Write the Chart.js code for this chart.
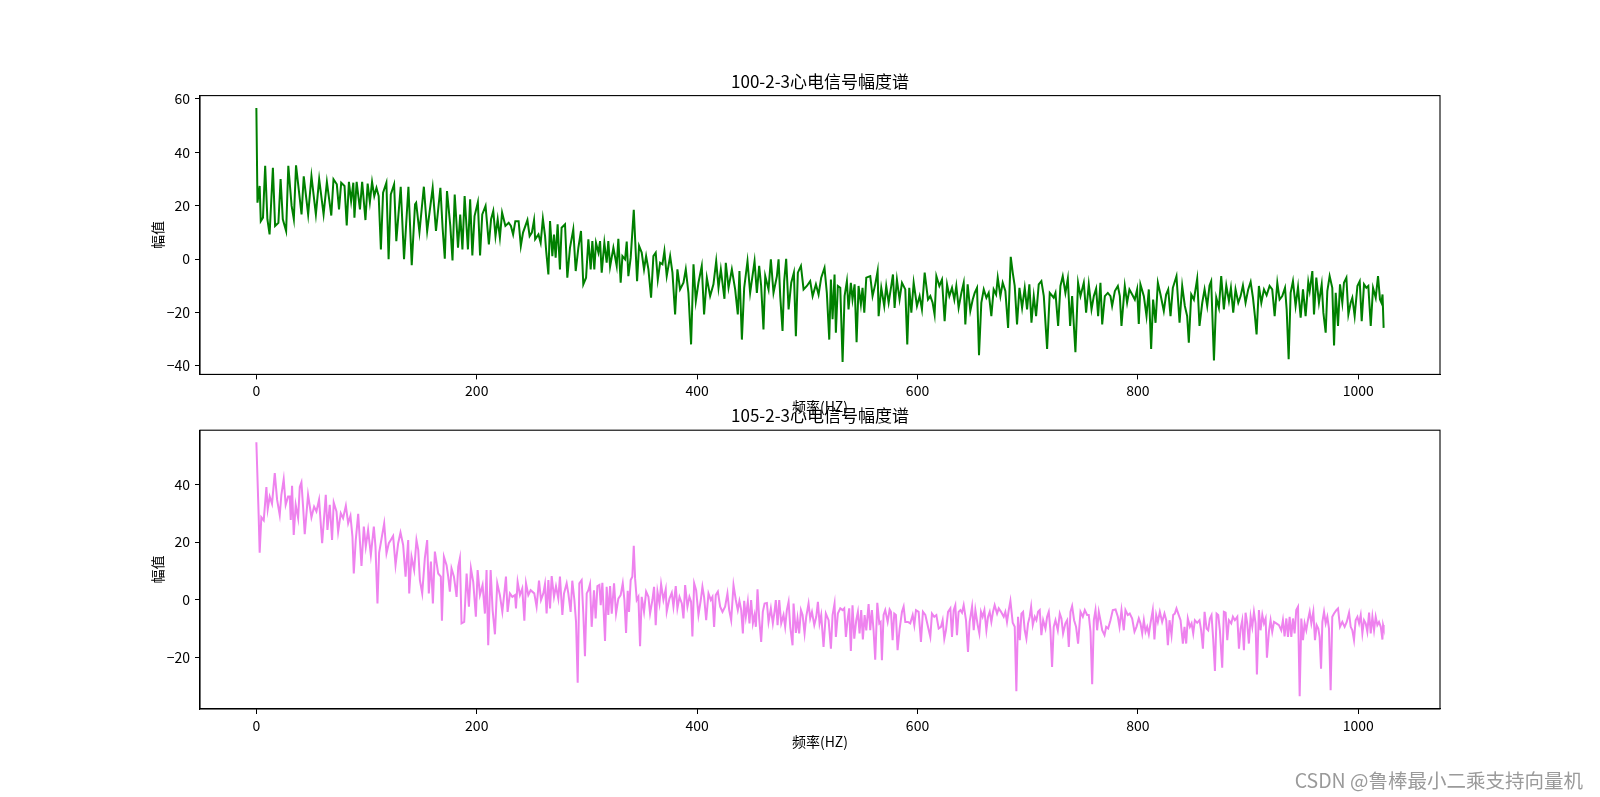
<!DOCTYPE html>
<html>
<head>
<meta charset="utf-8">
<title>心电信号幅度谱</title>
<script src="https://cdn.jsdelivr.net/npm/chart.js@4.4.1/dist/chart.umd.min.js"></script>
<style>
  html, body { margin: 0; padding: 0; background: #fff; }
  body { width: 1600px; height: 797px; position: relative; overflow: hidden; }
  canvas { position: absolute; left: 0; }
  #topChart { top: 0; }
  #botChart { top: 400px; }
  .watermark {
    position: absolute; right: 17px; top: 770px;
    font-family: "Noto Sans CJK SC", sans-serif; font-size: 19.5px; line-height: 19px;
    color: #9a9a9a; white-space: nowrap;
  }
</style>
</head>
<body>
<canvas id="topChart" width="1600" height="420"></canvas>
<canvas id="botChart" width="1600" height="397"></canvas>
<div class="watermark">CSDN @鲁棒最小二乘支持向量机</div>

<script>
// Chart Data
const xTicks = [0, 200, 400, 600, 800, 1000];
const topYTicks = [-40, -20, 0, 20, 40, 60];
const botYTicks = [-20, 0, 20, 40];

// 100-2-3 spectrum
const topFreq = [
  0,1,3,4,6,8,10,12,15,17,
  20,22,24,27,29,32,34,36,41,43,
  47,50,54,57,61,64,68,70,73,75,
  77,80,82,84,86,88,89,91,94,96,
  99,101,103,105,107,109,111,113,115,118,
  120,122,125,127,131,134,138,141,144,145,
  148,152,155,160,163,167,169,171,173,176,
  178,180,183,185,187,189,192,194,196,198,
  201,203,205,208,211,213,215,217,219,221,
  223,226,229,231,233,235,238,240,242,246,
  248,250,252,253,256,258,260,262,263,265,
  266.5,268.6,270.1,271.6,273.4,275.5,277,280.1,282.2,284.6,
  287.6,289.8,292.2,294.6,296.7,299.2,301.3,303.4,304.9,306.7,
  308.2,310.4,311.9,313.4,315.8,317.9,319.4,321,324,327,
  328.5,330.6,332.2,334.6,336.1,337.6,339.7,342.5,345.5,347.3,
  349.7,351.8,353.7,355.8,358.2,360.3,362.4,364.3,366.4,368.5,
  370.3,372.4,375.5,377.6,380,382.1,384.5,387.6,389.7,392.1,
  394.5,396.7,398.8,401.2,404.2,406.3,408.8,411.8,414.8,417.3,
  419.4,421.5,424.8,426,428.5,431.5,434.5,436.9,438.4,440.6,
  442.7,445.7,448.1,452.1,454.2,456.3,458.1,460.2,461.8,464.8,
  466.9,469.3,472.4,473.9,475.4,477.5,479,480.8,483,485.4,
  487.8,489.6,491.4,494.2,496.6,499.6,502.6,504.8,507.8,510.2,
  512.6,515.6,517.7,519.9,521.4,522.9,524.7,525.9,527.7,529.9,
  532,533.8,535.9,537.4,539.5,541,542.9,544.7,546.5,548.6,
  550.1,551.7,553.5,557.1,559.2,561.6,563.8,564.7,567.1,569.8,
  571.6,573.8,575.9,577.7,579.2,581.3,583.7,585.9,588.9,590.7,
  592.5,594.4,596.5,599.5,601.9,604,606.5,609.5,611.6,613.7,
  615.5,617.1,619.8,622.2,624.6,626.8,628.9,631.3,633.4,635.2,
  637.3,639.8,641.9,643.4,645.5,647.9,650.1,651.9,654,655.8,
  657.9,660.1,662.5,664.6,667,669.1,671.3,672.8,675.2,677.3,
  679.7,682.2,684.6,686.4,688.2,690.3,692.5,694.9,697.3,699.4,
  701.5,703.4,705.5,707.6,710,712.4,714.6,717.6,720,723.6,
  725.2,727.6,729.7,731.8,734.2,736.4,738.5,740.3,743.3,745.7,
  747.9,750.9,753,755.4,757.9,760,762.1,763.9,766,767.6,
  770,772.7,775.1,776.6,779.1,781.8,783.6,785.1,788.1,790.2,
  792.3,794.8,797.2,799.3,800.8,802.3,805.4,807.8,809.9,812,
  813.8,816,818.1,820.5,823.5,825.6,827.5,829.6,831.7,835,
  837.8,840.2,842.6,844.7,846.2,848.4,850.8,853.8,855.9,858.4,
  860.5,862.9,865,866.5,869,871.1,873.5,875.6,878,880.2,
  882.6,884.4,886.5,888.6,891.1,893.2,895.3,897.7,900.1,902.3,
  904.4,906.2,907.7,909.8,912,914.4,916.8,919.5,921.9,924.1,
  926.5,928.6,931,933.5,935,936.8,938.6,940.7,943.1,945.3,
  947.7,949.8,952.2,954.6,955.9,958.3,959.8,961.9,964.3,966.8,
  968.3,970.4,971.9,974,976.4,978,979.5,981.6,983.4,985.5,
  987,989.2,991,993.1,994.6,996.7,999.2,1001.3,1003.1,1005.2,
  1007.3,1009.1,1011.3,1013.4,1015.8,1017.9,1019.7,1021,1022,1023
];
const topAmp = [
  56.6,21.1,27.4,14.2,15.5,34.9,14.9,9.2,34.2,12.4,
  13.6,30,14.9,10.5,34.9,19.9,14.9,35.1,16.7,31,
  16.7,31,16.7,29.9,16.7,28.9,16.3,29.9,28,18.6,
  28.6,27.4,12.6,28.9,21.7,28.6,15.5,28.9,18.6,28.9,
  14.6,28.3,21.3,28.9,23.6,26.7,23.6,3.6,24.9,28.6,
  -0.1,24.2,28,6.7,27.1,-0.1,27.1,-2.3,20.5,21.1,
  10.1,27.1,10.5,26.7,10.5,26.7,11.7,0.1,25.5,12.4,
  -0.5,24.2,4.2,16.7,3.6,23.6,3.6,22.4,1.3,16.1,
  21.3,1.3,16.7,19.9,5.5,14.9,18,8.6,14.9,8,
  17.4,12.4,13.6,12.4,9.2,14.2,14.2,4.9,9.9,14.6,
  8.6,9.9,14.6,7.4,9.2,6.1,15.1,8.6,3,-5.8,
  14.2,1.1,9.2,0.5,13,-3.9,11.7,13,-7,4.2,
  11.1,-4.5,4.2,10.5,-9.5,-7,7.4,-3.9,6.7,-3.9,
  6.1,2.4,6.7,-5.1,6.1,-1.4,6.7,-2.9,4.2,-2.6,
  7.6,-8.9,1.1,-0.1,6.5,-6.4,0.5,18.4,-8.3,4.9,
  2.4,-3.9,1.1,-3.9,-14.5,1.1,2.4,-7.7,-1.4,-2,
  3,-6.4,1.1,-5.1,-20.8,-3.9,-11.4,-8.9,-3.9,-12.7,
  -32,-2,-15.8,-8.9,-2.6,-20.8,-7,-13.9,-9.5,-0.8,
  -10.8,-3.9,-14.9,-1.4,-10.8,-3.9,-11.4,-20.8,-4.5,-30.2,
  -10.8,-0.8,-12.7,-0.8,-12.7,-2.6,-10.1,-26.4,-6.4,-11.4,
  -0.1,-12.7,-6.4,-0.1,-13.9,-27,-8.3,0.1,-18.9,-8.9,
  -5.1,-28.9,-5.1,-2.6,-11.4,-10.1,-8.3,-13.9,-9.5,-13.3,
  -7,-3.3,-12.7,-30.2,-7.7,-22.6,-5.8,-27.6,-10.1,-10.8,
  -38.6,-13.9,-8.3,-18.9,-8.9,-15.2,-9.5,-31.2,-10.1,-17,
  -10.8,-20.1,-7,-6.4,-13.9,-9.5,-4.5,-21.4,-10.8,-17.6,
  -10.1,-16.4,-10.8,-5.8,-18.3,-7.7,-15.2,-8.9,-11.4,-32,
  -10.8,-20.1,-8.9,-17.6,-13.9,-18.9,-5.1,-15.2,-13.9,-16.4,
  -20.8,-6.4,-10.1,-7.7,-23.3,-9.5,-13.9,-10.8,-15.2,-10.1,
  -18.3,-12.7,-8.9,-24.5,-9.5,-19.5,-15.2,-12.7,-10.8,-36.1,
  -16.4,-11.4,-14.5,-12.7,-21.4,-11.4,-13.3,-7,-13.9,-8.9,
  -12,-25.8,0.8,-5.1,-10.1,-24.5,-10.8,-18.3,-10.8,-18.9,
  -9.5,-23.9,-13.9,-21.4,-9.5,-8.3,-13.9,-33.7,-12.7,-14.5,
  -12.7,-25.1,-10.1,-6.4,-12.7,-7.4,-25.1,-13.9,-34.9,-8.9,
  -13.9,-8.9,-20.1,-9.5,-18.9,-13.9,-11.1,-21.4,-8.9,-24.5,
  -13.9,-12.7,-13.9,-17.6,-12,-10.1,-13.9,-25.1,-10.1,-16.4,
  -11.4,-13.3,-15.2,-11.4,-24.3,-9.5,-13.9,-21.4,-11.4,-33.7,
  -15.2,-23.9,-8.9,-13.3,-19.5,-13.3,-11.4,-21.4,-10.8,-6.4,
  -23.9,-10.1,-17.6,-21.4,-31.4,-13.3,-15.2,-7.4,-25.1,-16.4,
  -11.4,-17.6,-9.9,-8.3,-38,-14.5,-18.3,-6.4,-18.9,-9.9,
  -15.8,-10.8,-20.1,-11.4,-16.4,-13.9,-9.9,-16.4,-11.4,-8.6,
  -14.5,-21.4,-28.3,-10.1,-16.4,-11.4,-13.6,-10.1,-11.4,-21.4,
  -8.9,-15.2,-13.9,-10.8,-18.9,-37.6,-12.7,-8.3,-17.6,-10.5,
  -22,-11.4,-21.4,-8.6,-12,-4.5,-20.8,-7,-16.4,-9.5,
  -20.1,-27.6,-12,-6.4,-10.8,-32.4,-12.7,-25.1,-9.5,-16.4,
  -8.9,-7,-20.8,-16.4,-14.5,-21.4,-10.1,-8.3,-23.3,-9.5,
  -10.8,-10.1,-25.1,-10.8,-14.5,-6.4,-15.2,-16.4,-13.3,-25.8
];

// 105-2-3 spectrum
const botFreq = [
  0,2.1,3,4.5,6.7,9.1,10.3,12.1,14.2,16.7,
  18.8,21.2,22.7,24.8,26.6,28.8,30.3,31.2,32.4,33.9,
  35.7,37.9,39.4,40.9,42.4,43.9,46.9,50,52.4,54.5,
  56.9,59.7,63,64.5,66.6,68.7,70.2,72.7,74.2,76.6,
  78.7,81.2,83.3,85.4,87.2,88.4,90.2,92.4,93.9,95.4,
  97.5,99.3,101.4,103.9,106.6,108.1,109.9,111.4,116,118.1,
  120.2,122,124.1,126.3,128.7,130.8,133.2,135.4,137.8,138.7,
  140.8,143.2,145.3,146.9,148.4,150.5,152.9,155,156.5,158.4,
  160.2,162,165,167.4,168.4,170.2,172.6,174.1,175.6,177.1,
  179.3,181.7,183.2,184.7,186.2,188.6,190.8,192.9,194.7,196.8,
  199.2,200.8,202.9,205.3,207.4,208.9,210.4,212.6,214.4,216.5,
  218.6,221,223.2,225,226.5,228,230.1,232.3,234.7,235.6,
  237.1,239.2,241.3,243.2,244.7,246.8,248.9,252.2,254.3,256.5,
  258.3,260.4,261.9,263.4,265,266.5,268,270.1,271.9,274,
  275.5,277.7,279.2,281.6,283.1,285.2,286.7,288.6,290.1,291.6,
  293.1,295.2,296.7,298.2,299.8,301.3,302.8,304.3,306.4,307.9,
  309.5,311.3,312.5,314,316.4,317.9,319.4,321,322.5,324.6,
  326.4,328.5,330.6,332.5,334,335.5,337,338.2,339.7,341.2,
  342.5,343.7,345.2,346.7,348.2,349.7,351.8,353.7,355.8,357.3,
  359.4,360.9,362.4,364,365.8,367.3,369.4,371.5,372.4,374.9,
  377,378.5,380.6,382.1,384,386.1,387.6,389.1,391.2,393,
  394.5,395.7,397.3,399.1,401.2,403.3,404.8,406.3,408.2,410.3,
  412.4,413.9,415.4,416.9,418.8,420.9,423,425.4,427.5,429.1,
  430.9,433,435.1,436.9,438.4,440,441.5,442.7,444.2,446,
  447.5,449,450.6,452.1,453.3,454.8,456.3,458.1,459.6,461.2,
  463.3,464.8,466.9,468.7,470.2,471.4,473,474.5,476.3,478.4,
  479.9,481.4,483,484.5,486.6,487.5,489.6,491.1,492.6,494.2,
  495.7,497.5,499,501.1,502.6,504.2,506.3,508.1,509.6,511.1,
  512.6,514.7,516.8,519.3,521.4,522.9,524.7,525.9,527.7,529.9,
  532,533.5,535,536.5,538,539.5,541,542.6,544.4,545.9,
  547.4,548.9,550.4,552,553.5,555.6,557.1,558.6,560.1,561.6,
  563.5,565.3,566.5,567.7,569.2,570.7,572.9,574.7,575.9,577.4,
  578.9,580.4,581.9,583.8,585.9,587.4,588.9,591.3,593.4,595.6,
  597.1,598.6,601,603.1,604.9,607.1,609.5,611.6,613.1,615.2,
  617.1,619.2,621.3,622.8,624.3,625.8,627.7,629.8,631.3,632.8,
  634.3,635.8,637.3,638.9,640.4,641.9,644,645.8,647.3,649.5,
  651,652.5,654.6,656.1,657.6,659.1,660.7,662.5,664,665.5,
  667,668.5,670,672.2,673.7,675.8,678.2,679.7,681.2,682.8,
  684.3,686.4,688.2,689.7,691.2,692.8,694.3,695.8,697.3,698.8,
  700.3,701.8,703.1,704.6,706.4,707.9,709.4,710.9,712.4,714,
  716.1,717.6,719.1,720.6,722.1,723.6,725.2,727.3,729.1,730.6,
  732.1,734.2,735.8,737.3,738.8,740.3,742.1,743.9,745.7,747.9,
  750,751.8,753.9,755.4,757,758.5,760,761.5,763,764.5,
  766,767.6,769.7,771.2,773,775.1,777.2,779.7,781.8,783.3,
  785.1,787.2,788.7,790.8,792.6,794.8,796.9,798.7,800.8,802.3,
  803.9,805.4,806.9,808.4,809.9,811.4,813.5,815,816.6,818.1,
  819.9,822,824.1,825.7,827.2,828.7,830.5,832,833.5,835,
  836.6,838.7,840.8,842.3,843.8,845.3,847.2,848.7,850.2,851.7,
  853.8,855.9,857.4,859,860.5,862.3,863.8,865.3,866.8,868.3,
  869.9,871.4,872.9,874.4,876.5,878,879.6,881.1,882.6,884.7,
  886.2,888,890.2,891.7,893.2,894.7,896.2,897.7,899.2,900.7,
  902.3,903.8,905.3,906.8,908,909.8,911.3,912.9,914.4,915.9,
  917.1,918.9,920.4,921.9,923.5,925.6,928,930.1,931.6,933.1,
  934.7,936.2,937.7,939.2,940.7,942.2,943.7,945.3,946.8,948.3,
  949.8,951.3,952.8,954.3,955.9,957.4,959.2,960.7,962.2,963.7,
  964.9,966.2,967.4,968.9,970.4,971.9,973.4,974.9,976.4,978,
  980.1,981.6,983.4,985.5,987.6,989.5,991.6,993.1,994.6,996.1,
  997.6,999.2,1000.7,1002.2,1003.7,1005.2,1006.7,1008.2,1009.8,1011.3,
  1012.8,1014.3,1015.8,1017.3,1018.8,1020.4,1021.9,1022.5,1023
];
const botAmp = [
  54.6,28.9,16.3,28.6,27.5,39.1,31.4,35.8,33.3,43.9,
  34.7,29.4,36.4,41.8,32.9,35.8,35.8,27.7,39.5,22.5,
  32.9,28.3,39.1,40.7,32.3,22.7,36.4,28.6,32.3,30.6,
  34.7,19.6,36.4,24.2,32.9,20.7,33.7,30.6,23.6,30,
  28.3,32.6,26.5,29.1,21.9,9.1,20.7,29.8,20.7,11.7,
  25.4,18.4,24.2,15.5,25.4,18.4,-1.3,16.3,26.5,16.1,
  19.6,20.7,22.1,12,19.6,23.3,19,8,20.7,2.2,
  14.9,10.3,20.7,17.3,6.8,2.2,14.4,20.7,2.2,13.2,
  -1.3,16.7,9.1,8,-7.3,14.9,12,8,2.8,10.9,
  8,1,11.5,14.4,-8.2,-7.7,9.1,-2.4,10.9,6.2,
  -5.9,10.3,1.6,5.1,-4.8,10.3,-15.8,10.3,-3.6,-12,
  5.7,1.6,-4.2,2.2,8,-4.2,2.2,1,1.6,-3,
  6.2,1.6,3.9,-7.3,5.7,1.6,3.3,2.2,-2.4,6.6,
  -0.1,2.2,5.4,-4.8,6.8,-3,8.2,1,4.7,0.4,
  8,-5.3,2.2,5.7,2.2,-4.2,6.6,-0.1,-7.7,-28.8,
  5.7,6.8,-4.8,-19.6,2.2,3.3,5.4,-9.4,3.3,-6.5,
  4.7,5.1,-1.9,5.9,-14.3,4.5,-5.3,4.7,-4.8,5.7,
  -4.8,0.4,1.6,5.7,-0.1,-11.5,3.1,-4.2,6.8,8,
  18.7,7.4,-0.1,1,-16.1,1,-4.2,2.8,1,-4.8,
  -0.1,4.5,-8.8,2.8,-1.3,5.4,-0.1,3.6,-4.2,0.4,
  2.4,-2.4,4.7,-3,1,-1.3,-6.5,5.1,-2.4,1,
  -0.7,-12.7,5.7,3.3,-5.3,-0.1,4.5,1,-7.1,2.2,
  -0.1,1,-9.4,1.6,2.8,-2.4,-4.2,-2.4,2.2,-3.6,
  -7.1,5.1,-0.1,-3.6,-0.4,-3.6,-11.7,-0.4,-5.9,-0.7,
  -8.2,-0.1,-8.2,-5.3,-9.4,3.6,-6.5,-14.6,-4.2,-1.3,
  -1.1,-7.7,-3,-8.2,-4.2,-0.1,-8.8,-0.1,-8.2,-5.3,
  -9.4,-3.6,-0.7,-9.4,-15.8,-1.3,-11.5,-6.5,-11.7,-3.6,
  -5.3,-11.7,-5.9,-1.3,-6.5,-4.2,-8.8,-5.9,-0.7,-8.2,
  -5.3,-16.4,-4.8,-7.1,-17,-5.3,-1.3,-12.9,-4.8,-3,
  -3.6,-3,-12.9,-7.1,-3,-17.8,-1.9,-13.5,-7.1,-4.2,
  -11.7,-3.6,-13.8,-5.3,-10.6,-1.5,-10.6,-3.6,-10.6,-20.8,
  -1.1,-8.2,-7.7,-21,-5.3,-3.6,-7.7,-3.4,-4.2,-14,
  -4.8,-5.3,-17.5,-10,-4.2,-2.4,-7.7,-7.7,-8.2,-5.3,
  -8.8,-3.6,-4.2,-14.6,-4.2,-5.3,-9.4,-12.9,-4.8,-5.9,
  -5.3,-10,-9.4,-7.1,-13.5,-10.6,-4.2,-3,-12.9,-3.6,
  -1.9,-12.3,-4.2,-3.6,-4.5,-1.9,-7.1,-18.1,-7.7,-2.4,
  -10.6,-3.6,-8.8,-11.7,-4.2,-5.9,-3.6,-10.6,-5.9,-4.2,
  -7.7,-4.2,-1.9,-4.8,-3,-4.2,-5.9,-4.2,-7.7,-3.6,
  -0.4,-8,-9.4,-31.7,-5.9,-14,-4.8,-4.2,-10.6,-13.5,
  -8.2,-5.9,-2.4,-8.8,-5.9,-7.1,-4.2,-3.6,-12.3,-7.1,
  -10,-5.9,-4.2,-10.6,-23.3,-9.4,-7.1,-10.6,-4.8,-6.5,
  -11.7,-8.2,-7.1,-16.4,-4.2,-2.2,-7.1,-9.4,-15.2,-4.2,
  -5.9,-3.6,-5.3,-5.3,-11.1,-29.3,-7.1,-3.6,-10.6,-4.2,
  -7.1,-10.6,-12.3,-9.4,-10,-7.1,-3.6,-3.4,-5.9,-9.4,
  -3.6,-10.6,-3.6,-5.3,-4.8,-6.5,-11.1,-9.4,-6.5,-8.2,
  -11.7,-7.1,-11.1,-9.4,-12,-8.2,-3.6,-13.8,-5.3,-7.7,
  -4.2,-7.7,-4.8,-7.1,-15.8,-7.1,-12.3,-5.3,-4.8,-3,
  -4.8,-7.1,-15.2,-9.4,-15.2,-6.5,-9.4,-8.2,-11.7,-7.1,
  -8,-7.1,-10.6,-17,-4.2,-10,-10.6,-6.5,-5.3,-13.5,
  -24.7,-4.8,-5.3,-10.6,-23.6,-4.2,-4.5,-14,-7.1,-8.2,
  -5.9,-7.1,-5.9,-17,-10,-7.1,-17.5,-4.5,-8.2,-15.2,
  -5.9,-9.4,-4.2,-8.2,-25.9,-3.6,-10.6,-5.3,-8.2,-6.5,
  -20.1,-11.1,-7.1,-11.1,-7.7,-8.2,-8.8,-10.6,-7.1,-12.7,
  -6.5,-12.9,-5.9,-12.9,-6.5,-11.7,-3.6,-2.4,-33.5,-6.5,
  -14,-8.2,-10.6,-7.1,-4.2,-8.2,-4.2,-14,-8.8,-10,
  -12.9,-23.9,-7.7,-4.2,-8.2,-5.9,-10,-31.4,-5.9,-4.8,
  -3.6,-3,-9.4,-7.7,-9.4,-7.7,-4.5,-9.4,-10.6,-14,
  -7.1,-5.9,-8.2,-5.3,-11.7,-7.1,-8.2,-11.1,-4.5,-11.7,
  -5.9,-10.6,-5.9,-8.8,-7.7,-9.4,-13.8,-8.8,-9.6
];

const FONT = 'SimHei, "Noto Sans CJK SC", sans-serif';

// Axes frame + title centred over the plot area (matplotlib style)
const axesDecor = {
  id: 'axesDecor',
  afterDraw(chart, args, opts) {
    const { ctx, chartArea: a } = chart;
    ctx.save();
    ctx.strokeStyle = '#000';
    ctx.lineWidth = 1.1;
    ctx.strokeRect(a.left, a.top, a.right - a.left, a.bottom - a.top);
    ctx.fillStyle = '#000';
    ctx.font = '17px ' + FONT;
    ctx.textAlign = 'center';
    ctx.textBaseline = 'middle';
    ctx.fillText(opts.text, (a.left + a.right) / 2, a.top - opts.offset);
    ctx.restore();
  }
};

function toPoints(freq, amp) {
  const n = Math.min(freq.length, amp.length);
  const pts = [];
  for (let i = 0; i < n; i++) pts.push({ x: freq[i], y: amp[i] });
  return pts;
}

function minusSign(v) {
  return v < 0 ? '\u2212' + Math.abs(v) : String(v);
}

function makeChart(id, cfg) {
  return new Chart(document.getElementById(id), {
    type: 'line',
    data: {
      datasets: [{
        data: toPoints(cfg.freq, cfg.amp),
        borderColor: cfg.color,
        borderWidth: 2,
        pointRadius: 0,
        tension: 0,
        fill: false
      }]
    },
    options: {
      responsive: false,
      animation: false,
      events: [],
      layout: { padding: { left: 0, right: 160, top: cfg.top, bottom: 0 } },
      plugins: {
        legend: { display: false },
        tooltip: { enabled: false },
        title: { display: false },
        axesDecor: { text: cfg.title, offset: cfg.titleOffset }
      },
      scales: {
        x: {
          type: 'linear',
          min: -51.15,
          max: 1074.15,
          afterFit: s => { s.height = cfg.xHeight; },
          afterBuildTicks: s => { s.ticks = xTicks.map(v => ({ value: v })); },
          grid: { drawOnChartArea: false, drawTicks: true, tickLength: 5, tickColor: '#000', tickWidth: 1 },
          border: { display: true, color: '#000', width: 1.1 },
          ticks: {
            color: '#000', font: { family: FONT, size: 14 }, padding: 3,
            maxRotation: 0, autoSkip: false, callback: v => String(v)
          },
          title: {
            display: true, text: '频率(HZ)', color: '#000',
            font: { family: FONT, size: 14 },
            padding: { top: 0, bottom: cfg.xTitleBottom }
          }
        },
        y: {
          type: 'linear',
          min: cfg.yMin,
          max: cfg.yMax,
          afterFit: s => { s.width = 200; },
          afterBuildTicks: s => { s.ticks = cfg.yTicks.map(v => ({ value: v })); },
          grid: { drawOnChartArea: false, drawTicks: true, tickLength: 5, tickColor: '#000', tickWidth: 1 },
          border: { display: true, color: '#000', width: 1.1 },
          ticks: { color: '#000', font: { family: FONT, size: 14 }, padding: 5, callback: minusSign },
          title: {
            display: true, text: '幅值', color: '#000',
            font: { family: FONT, size: 14 },
            padding: { top: 149, bottom: 0 }
          }
        }
      }
    },
    plugins: [axesDecor]
  });
}

// Top chart: 100-2-3
makeChart('topChart', {
  freq: topFreq, amp: topAmp, color: '#008000',
  title: '100-2-3心电信号幅度谱',
  top: 95.6, titleOffset: 14.5,
  xHeight: 45.6, xTitleBottom: 5.4,
  yMin: -43.25, yMax: 61.25, yTicks: topYTicks
});

// Bottom chart: 105-2-3
makeChart('botChart', {
  freq: botFreq, amp: botAmp, color: '#ee82ee',
  title: '105-2-3心电信号幅度谱',
  top: 30.2, titleOffset: 14.5,
  xHeight: 88, xTitleBottom: 46.6,
  yMin: -37.9, yMax: 58.8, yTicks: botYTicks
});
</script>
</body>
</html>
